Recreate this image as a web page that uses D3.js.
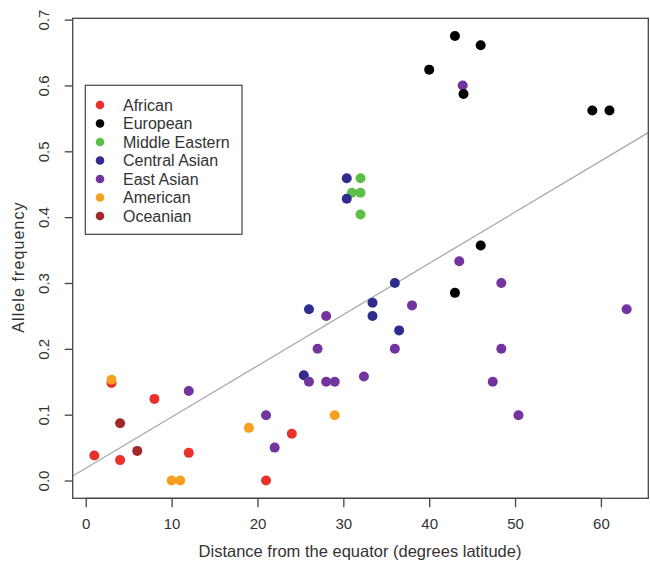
<!DOCTYPE html>
<meta charset="utf-8">
<html>
<style>
  body { margin: 0; background: #fff; }
  text { font-family: "Liberation Sans", Arial, sans-serif; fill: #333; }
</style>
<div id="chart"></div>
<script src="https://cdn.jsdelivr.net/npm/d3@7"></script>
<script>
// groups in legend order
var groups = ["African", "European", "Middle Eastern", "Central Asian", "East Asian", "American", "Oceanian"];
var groupColors = ["#e8312a", "#000000", "#5cbf47", "#2e2d8f", "#7334a0", "#f7a020", "#a3282b"];

// [latitude, frequency] for each group
var african = [[1, 0.038], [3, 0.148], [4, 0.031], [8, 0.124], [12, 0.042], [21, 0.0], [24, 0.071]];
var european = [[43, 0.675], [46, 0.661], [40, 0.624], [44, 0.587], [59, 0.562], [61, 0.562], [46, 0.357], [43, 0.285]];
var middleEastern = [[32, 0.459], [31, 0.437], [32, 0.437], [32, 0.404]];
var centralAsian = [[30.4, 0.459], [30.4, 0.428], [26, 0.26], [25.4, 0.16], [36, 0.30], [33.4, 0.27], [33.4, 0.25], [36.5, 0.228]];
var eastAsian = [[12, 0.136], [21, 0.099], [22, 0.05], [26, 0.15], [27, 0.2], [28, 0.25], [28, 0.15], [29, 0.15],
  [32.4, 0.158], [36, 0.2], [38, 0.266], [43.5, 0.333], [43.9, 0.60], [48.4, 0.30], [48.4, 0.2], [47.4, 0.15],
  [50.4, 0.099], [63, 0.26]];
var american = [[3, 0.153], [10, 0.0], [11, 0.0], [19, 0.08], [29, 0.099]];
var oceanian = [[4, 0.087], [6, 0.045]];

var xTicks = [0, 10, 20, 30, 40, 50, 60];
var yTicks = [0.0, 0.1, 0.2, 0.3, 0.4, 0.5, 0.6, 0.7];

// fitted line: frequency = intercept + slope * latitude
var fitIntercept = 0.0186;
var fitSlope = 0.00778;

var seriesByGroup = {
  "African": african, "European": european, "Middle Eastern": middleEastern,
  "Central Asian": centralAsian, "East Asian": eastAsian, "American": american, "Oceanian": oceanian
};
// order the dots get painted in (later ones on top)
var drawOrder = ["Middle Eastern", "Central Asian", "African", "American", "Oceanian", "East Asian", "European"];

var width = 650, height = 563;
var margin = {left: 72.7, right: 1.7, top: 18.3, bottom: 64.7};

var svg = d3.select("#chart").append("svg")
  .attr("width", width).attr("height", height);

var x = d3.scaleLinear().domain([-1.52, 65.52]).range([margin.left, width - margin.right]);
var y = d3.scaleLinear().domain([-0.027, 0.702]).range([height - margin.bottom, margin.top]);

var color = d3.scaleOrdinal().domain(groups).range(groupColors);

svg.append("clipPath").attr("id", "plotClip")
  .append("rect")
  .attr("x", margin.left).attr("y", margin.top)
  .attr("width", width - margin.left - margin.right)
  .attr("height", height - margin.top - margin.bottom);

// regression line across the plot region
var xd = x.domain();
svg.append("line")
  .attr("clip-path", "url(#plotClip)")
  .attr("x1", x(xd[0])).attr("y1", y(fitIntercept + fitSlope * xd[0]))
  .attr("x2", x(xd[1])).attr("y2", y(fitIntercept + fitSlope * xd[1]))
  .style("stroke", "#aaa").style("stroke-width", 1.3);

// points
drawOrder.forEach(function (g) {
  svg.append("g").selectAll("circle")
    .data(seriesByGroup[g])
    .enter().append("circle")
    .attr("cx", function (d) { return x(d[0]); })
    .attr("cy", function (d) { return y(d[1]); })
    .attr("r", 5)
    .style("fill", color(g));
});

// box
svg.append("rect")
  .attr("x", margin.left).attr("y", margin.top)
  .attr("width", width - margin.left - margin.right)
  .attr("height", height - margin.top - margin.bottom)
  .style("fill", "none").style("stroke", "#444").style("stroke-width", 1.3);

// axes
var xAxis = svg.append("g")
  .attr("transform", "translate(0," + (height - margin.bottom) + ")")
  .call(d3.axisBottom(x).tickValues(xTicks).tickSize(9).tickPadding(11).tickFormat(d3.format("d")));
var yAxis = svg.append("g")
  .attr("transform", "translate(" + margin.left + ",0)")
  .call(d3.axisLeft(y).tickValues(yTicks).tickSize(8).tickFormat(d3.format(".1f")));

[xAxis, yAxis].forEach(function (a) {
  a.select(".domain").remove();
  a.selectAll(".tick line").style("stroke", "#444").style("stroke-width", 1.3);
  a.selectAll(".tick text").style("font-size", "15px").style("fill", "#333")
    .style("font-family", "'Liberation Sans', Arial, sans-serif");
});
xAxis.append("line")
  .attr("x1", x(xTicks[0])).attr("x2", x(xTicks[xTicks.length - 1]))
  .style("stroke", "#444").style("stroke-width", 1.3);
yAxis.selectAll(".tick text")
  .attr("transform", "rotate(-90)")
  .attr("x", 0).attr("y", -29)
  .attr("dy", "0.35em")
  .style("text-anchor", "middle");

// axis titles
svg.append("text")
  .attr("x", 360)
  .attr("y", 557)
  .style("text-anchor", "middle").style("font-size", "16.5px")
  .text("Distance from the equator (degrees latitude)");
svg.append("text")
  .attr("transform", "translate(24,267) rotate(-90)")
  .style("text-anchor", "middle").style("font-size", "16px")
  .style("letter-spacing", "1.1px")
  .text("Allele frequency");

// legend
var legend = svg.append("g");
legend.append("rect")
  .attr("x", 85.3).attr("y", 85.3).attr("width", 156.7).attr("height", 149)
  .style("fill", "#fff").style("stroke", "#444").style("stroke-width", 1.2);
groups.forEach(function (g, i) {
  var yy = 105 + i * 18.5;
  legend.append("circle").attr("cx", 100).attr("cy", yy).attr("r", 4.3).style("fill", color(g));
  legend.append("text").attr("x", 123).attr("y", yy).attr("dy", "0.36em")
    .style("font-size", "16px").text(g);
});
</script>
</html>
